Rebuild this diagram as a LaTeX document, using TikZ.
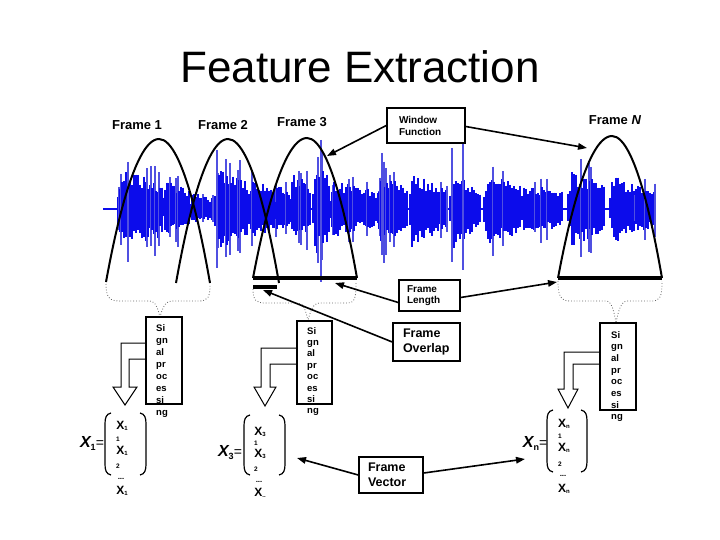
\documentclass[tikz,border=0pt]{standalone}
\usepackage{fontspec}
\setmainfont{Liberation Sans}
\usetikzlibrary{arrows.meta,calc}
\newcommand\fsz[2]{\fontsize{#1}{#2}\selectfont}
\newcommand\vx[1]{X\raisebox{-1.5pt}{\fsz{6}{6}#1}}
\newcommand\vlab[1]{{\fsz{16}{16}\bfseries\itshape X}\raisebox{-3pt}{\bfseries\fsz{9}{9}#1}{\fsz{14}{14}=}}
\definecolor{wblue}{RGB}{12,12,235}
\definecolor{sblue}{RGB}{80,80,225}
\begin{document}
\begin{tikzpicture}[x=1pt,y=-1pt,
  wave/.style={wblue,line width=2.2pt},
  spike/.style={sblue,line width=1.2pt},
  win/.style={black,line width=2pt},
  bar/.style={black,line width=4.5pt},
  brc/.style={black!60,dotted,line width=0.8pt},
  flbl/.style={font=\bfseries\fsz{13}{15},inner sep=0pt},
  tbox/.style={draw,line width=1.5pt,fill=white,align=left,inner ysep=0pt,font=\bfseries\fsz{10}{12}},
  bbox/.style={draw,line width=1.5pt,fill=white,align=left,inner ysep=0pt,font=\bfseries\fsz{12.5}{15}},
  spbox/.style={draw,line width=2pt,fill=white,inner sep=0pt},
  sptxt/.style={anchor=north west,inner sep=0pt,align=left},
  hollow/.style={draw=black,line width=1pt,fill=white},
  conn/.style={line width=1.6pt,-{Triangle[length=9pt,width=6.5pt]}},
  vel/.style={font=\bfseries\fsz{12}{12},inner sep=0pt},
  vsm/.style={font=\bfseries\fsz{6.5}{6.5},inner sep=0pt},
  par/.style={line width=1.2pt}
]
\useasboundingbox (0,0) rectangle (720,540);
\fill[white] (0,0) rectangle (720,540);

% title
\node[anchor=base,inner sep=0pt,font=\fsz{44}{48}] (title) at (360,83) {Feature Extraction};

% waveform
\draw[wblue,line width=1.3pt] (103,209) -- (655,209);
\pgfmathsetseed{4321}
\foreach \s/\e/\A in {118/163/42,163/190/30,190/212/17,215/247/47,247/275/32,275/290/26,290/310/38,313/330/50,330/362/31,362/380/24,377/407/36,410/428/42,428/447/30,450/466/44,466/480/28,484/520/37,520/562/27,568/605/40,610/634/37,634/654/28}{
  \pgfmathtruncatemacro{\nn}{(\e-\s)/2}
  \foreach \i in {0,...,\nn}{
    \pgfmathsetmacro{\xx}{\s+2*\i}
    \pgfmathsetmacro{\t}{\i/\nn}
    \pgfmathsetmacro{\env}{min(1,5*\t+0.4)*(1-0.35*\t)}
    \pgfmathsetmacro{\ya}{209-\A*\env*(0.6+0.4*rnd)}
    \pgfmathsetmacro{\yb}{209+\A*\env*(0.6+0.4*rnd)}
    \draw[wave] (\xx,\ya) -- (\xx,\yb);
    \pgfmathtruncatemacro{\sp}{rnd<0.2}
    \ifnum\sp=1
      \pgfmathsetmacro{\hh}{1.2*\A*\env*(0.9+0.3*rnd)}
      \pgfmathsetmacro{\yc}{209-\hh}
      \pgfmathsetmacro{\yd}{209+\hh*(0.85+0.3*rnd)}
      \pgfmathsetmacro{\xs}{\xx+1}
      \draw[spike] (\xs,\yc) -- (\xs,\yd);
    \fi
  }
}
\draw[spike] (321,140) -- (321,282);
\draw[spike] (463,140) -- (463,270);
\draw[spike] (452,148) -- (452,262);
\draw[spike] (382,153) -- (382,255);
\draw[spike] (128,162) -- (128,262);
\draw[spike] (217,150) -- (217,268);

% window functions
\draw[win] (106,282) parabola bend (159,139) (210,283);
\draw[win] (176,283) parabola bend (228,139) (279,283);
\draw[win] (253,278) parabola bend (307,138) (357,278);
\draw[win] (558,278) parabola bend (612,136) (662,278);

% bars
\draw[bar] (253,278) -- (357,278);
\draw[bar] (558,278) -- (662,278);
\draw[black,line width=3.5pt] (253,287) -- (277,287);

% frame labels
\node[flbl] (f1) at (137,125) {Frame 1};
\node[flbl] (f2) at (223,125) {Frame 2};
\node[flbl] (f3) at (302,122) {Frame 3};
\node[flbl] (fN) at (615,120) {Frame \textit{N}};

% braces
\draw[brc] (106,284) .. controls (106,298) and (110,301) .. (120,301) -- (150,301) .. controls (156,301) and (158,310) .. (160,317) .. controls (162,310) and (165,301) .. (171,301) -- (199,301) .. controls (208,301) and (210,297) .. (210,285);
\draw[brc] (253,289) .. controls (253,300) and (256,303) .. (265,303) -- (298,303) .. controls (304,303) and (306,312) .. (308,321) .. controls (310,312) and (313,303) .. (319,303) -- (347,303) .. controls (355,303) and (356,298) .. (356,282);
\draw[brc] (558,281) .. controls (558,297) and (561,301) .. (570,301) -- (606,301) .. controls (612,301) and (614,312) .. (616,323) .. controls (618,312) and (621,301) .. (627,301) -- (652,301) .. controls (660,301) and (662,297) .. (662,281);

% hollow arrows
\draw[hollow] (146,343) -- (121,343) -- (121,387) -- (113,387) -- (125,405) -- (137,387) -- (129,387) -- (129,359) -- (146,359);
\draw[hollow] (297,348) -- (261,348) -- (261,387) -- (254,387) -- (265,406) -- (276,387) -- (270,387) -- (270,364) -- (297,364);
\draw[hollow] (600,352) -- (564,352) -- (564,389) -- (558,389) -- (568,408) -- (578,389) -- (573,389) -- (573,364) -- (600,364);

% signal processing boxes
\node[spbox,minimum width=36pt,minimum height=87pt] (sp1) at (164,360.5) {};
\node[spbox,minimum width=35pt,minimum height=83pt] (sp3) at (314,362.5) {};
\node[spbox,minimum width=36pt,minimum height=87pt] (spN) at (618,366.5) {};
\node[sptxt,font=\bfseries\fsz{9.5}{12}] (spt1) at (156,324) {Si\\gn\\al\\pr\\oc\\es\\si\\ng};
\node[sptxt,font=\bfseries\fsz{9.5}{11.4}] (spt3) at (307,327) {Si\\gn\\al\\pr\\oc\\es\\si\\ng};
\node[sptxt,font=\bfseries\fsz{9.5}{11.7}] (sptN) at (611,331) {Si\\gn\\al\\pr\\oc\\es\\si\\ng};

% text boxes
\node[tbox,inner xsep=12pt,text width=54pt,minimum height=35pt] (wf) at (426,125.5) {Window\\Function};
\node[tbox,inner xsep=8pt,text width=45pt,minimum height=31pt,font=\bfseries\fsz{10}{11}] (fl) at (429.5,295.5) {Frame\\Length};
\node[bbox,inner xsep=10pt,text width=47pt,minimum height=38pt] (fo) at (426.5,342) {Frame\\Overlap};
\node[bbox,inner xsep=9pt,text width=46pt,minimum height=36pt] (fv) at (391,475) {Frame\\Vector};

% connector targets
\coordinate (w3) at (327,156);
\coordinate (wN) at (587,148);
\coordinate (l3) at (335,283);
\coordinate (lN) at (557,282);
\coordinate (ov) at (263,290);
\coordinate (v3) at (297,458);
\coordinate (vN) at (525,459);

\draw[conn] (wf.west) -- (w3);
\draw[conn] ($(wf.east)+(0,1)$) -- (wN);
\draw[conn] ($(fl.west)+(0,7)$) -- (l3);
\draw[conn] ($(fl.east)+(0,2)$) -- (lN);
\draw[conn] (fo.west) -- (ov);
\draw[conn] (fv.west) -- (v3);
\draw[conn] ($(fv.east)+(0,-2)$) -- (vN);

% vector 1
\node[inner sep=0pt] (lab1) at (92,443) {\vlab{1}};
\draw[par] (111,413) .. controls (106,414) and (105,418) .. (105,424) -- (105,464) .. controls (105,470) and (106,474) .. (111,475);
\draw[par] (140,413) .. controls (145,414) and (146,418) .. (146,424) -- (146,464) .. controls (146,470) and (145,474) .. (140,475);
\node[vel] (a1) at (122,426) {\vx{1}};
\node[vsm] (a2) at (118,439) {1};
\node[vel] (a3) at (122,451) {\vx{1}};
\node[vsm] (a4) at (118,466) {2};
\node[vsm] (a5) at (121,479) {-{}-{}-};
\node[vel] (a6) at (122,491) {\vx{1}};

% vector 3
\node[inner sep=0pt] (lab3) at (230,453) {\vlab{3}};
\draw[par] (250,415) .. controls (245,416) and (244,420) .. (244,426) -- (244,464) .. controls (244,470) and (245,474) .. (250,475);
\draw[par] (279,415) .. controls (284,416) and (285,420) .. (285,426) -- (285,464) .. controls (285,470) and (284,474) .. (279,475);
\node[vel] (b1) at (260,432) {\vx{3}};
\node[vsm] (b2) at (256,443) {1};
\node[vel] (b3) at (260,454) {\vx{3}};
\node[vsm] (b4) at (256,469) {2};
\node[vsm] (b5) at (259,482) {-{}-{}-};
\node[vel] (b6) at (260,493) {\vx{..}};

% vector N
\node[inner sep=0pt] (labN) at (535,443) {\vlab{n}};
\draw[par] (553,410) .. controls (548,411) and (547,415) .. (547,421) -- (547,461) .. controls (547,467) and (548,471) .. (553,472);
\draw[par] (581,410) .. controls (586,411) and (587,415) .. (587,421) -- (587,461) .. controls (587,467) and (586,471) .. (581,472);
\node[vel] (c1) at (564,424) {\vx{n}};
\node[vsm] (c2) at (560,436) {1};
\node[vel] (c3) at (564,448) {\vx{n}};
\node[vsm] (c4) at (560,464) {2};
\node[vsm] (c5) at (563,476) {-{}-{}-};
\node[vel] (c6) at (564,489) {\vx{n}};
\end{tikzpicture}
\end{document}
